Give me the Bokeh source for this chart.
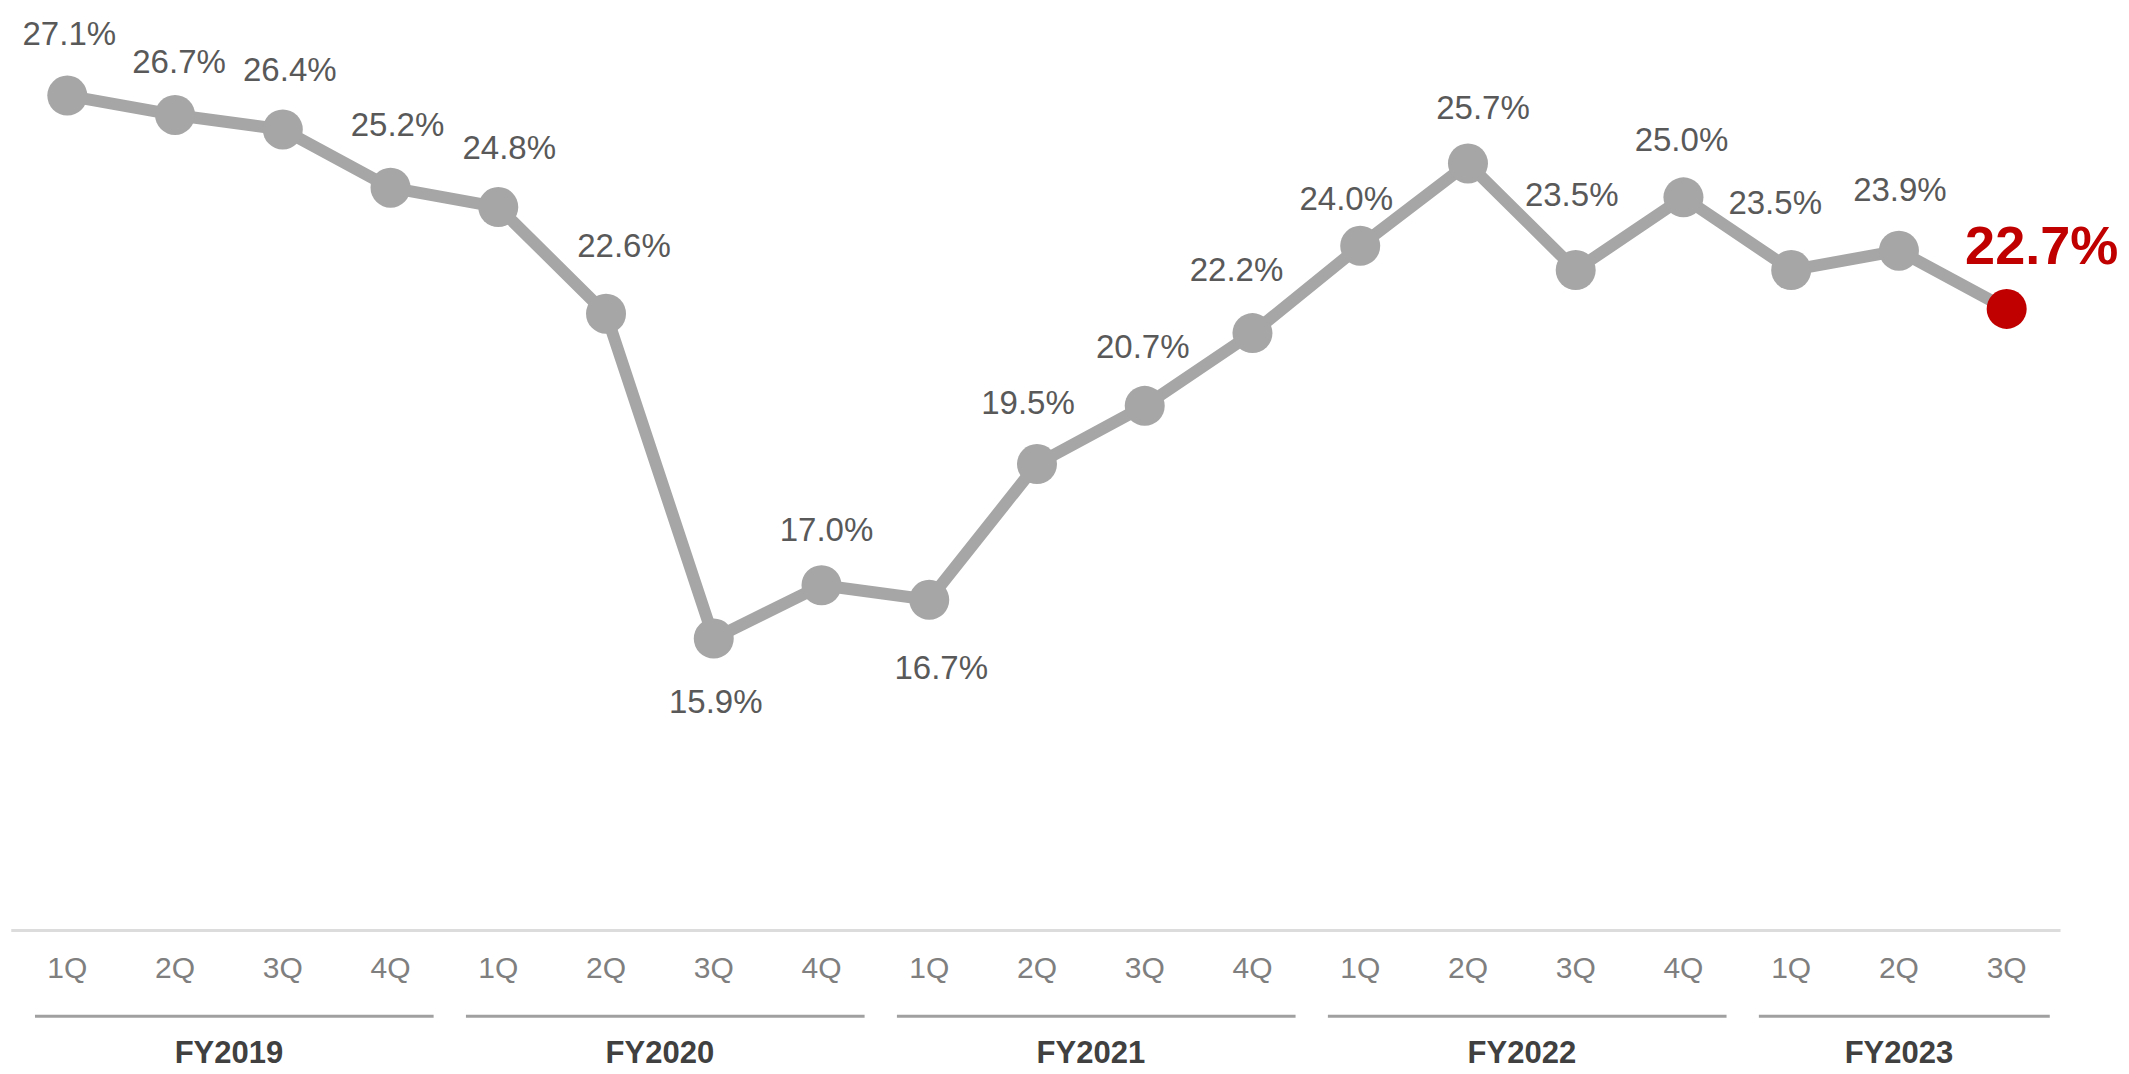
from bokeh.plotting import figure
from bokeh.models import ColumnDataSource, Range1d
from bokeh.core.properties import value
from bokeh.embed import file_html
from bokeh.resources import INLINE

# Quarterly ratio, FY2019 1Q through FY2023 3Q (%)
fiscal_years = ["FY2019", "FY2020", "FY2021", "FY2022", "FY2023"]
quarters_per_year = [4, 4, 4, 4, 3]
quarter_labels = ["1Q", "2Q", "3Q", "4Q",
                  "1Q", "2Q", "3Q", "4Q",
                  "1Q", "2Q", "3Q", "4Q",
                  "1Q", "2Q", "3Q", "4Q",
                  "1Q", "2Q", "3Q"]
ratio = [27.1, 26.7, 26.4, 25.2,
         24.8, 22.6, 15.9, 17.0,
         16.7, 19.5, 20.7, 22.2,
         24.0, 25.7, 23.5, 25.0,
         23.5, 23.9, 22.7]

# Per-label pixel nudges (screen px, +y is downward)
label_dx = [2, 4, 7, 7, 11, 18, 2, 5, 12, -9, -2, -16, -14, 15, -4, -2, -16, 1, 35]
label_dy = [-62, -53, -60, -63, -60, -68, 63, -56, 68, -62, -59, -64, -47, -56, -76, -58, -68, -61, -64]

GREY = "#a6a6a6"
RED = "#c00000"
FONT = value("Liberation Sans")

n = len(ratio)
xs = list(range(n))
last = n - 1

p = figure(width=2129, height=1074, output_backend="svg", toolbar_location=None,
           x_range=Range1d(-0.62, 19.14), y_range=Range1d(6.91, 29.06),
           x_axis_location=None, y_axis_location=None, min_border=0)
p.grid.visible = False
p.outline_line_color = None
p.background_fill_color = "white"
p.border_fill_color = "white"

# baseline under the quarter labels
AXIS_Y = 9.88
p.segment(x0=[-0.52], y0=[AXIS_Y], x1=[last + 0.5], y1=[AXIS_Y],
          line_color="#dcdcdc", line_width=3)

# series line and markers
p.line(xs, ratio, line_color=GREY, line_width=12)
marker_colors = [GREY] * last + [RED]
p.scatter(x=xs, y=ratio, size=40, fill_color=marker_colors, line_color=None)

# value labels
grey_src = ColumnDataSource(dict(
    x=xs[:last], y=ratio[:last],
    t=[f"{v:.1f}%" for v in ratio[:last]],
    dx=label_dx[:last], dy=label_dy[:last]))
p.text(x="x", y="y", text="t", x_offset="dx", y_offset="dy", source=grey_src,
       text_font=FONT, text_font_size="33px", text_color="#595959",
       text_align="center", text_baseline="middle")

p.text(x=[xs[last]], y=[ratio[last]], text=[f"{ratio[last]:.1f}%"],
       x_offset=label_dx[last], y_offset=label_dy[last],
       text_font=FONT, text_font_size="54px", text_font_style="bold",
       text_color=RED, text_align="center", text_baseline="middle")

# quarter labels
p.text(x=xs, y=[9.12] * n, text=quarter_labels,
       text_font=FONT, text_font_size="30px", text_color="#7f7f7f",
       text_align="center", text_baseline="middle")

# fiscal-year brackets and labels
starts, ends, centers = [], [], []
i = 0
for q in quarters_per_year:
    starts.append(i)
    ends.append(i + q - 1)
    centers.append(i + (q - 1) / 2)
    i += q
p.segment(x0=[s - 0.30 for s in starts], y0=[8.11] * len(starts),
          x1=[e + 0.40 for e in ends], y1=[8.11] * len(ends),
          line_color="#a0a0a0", line_width=3)
p.text(x=centers, y=[7.37] * len(centers), text=fiscal_years,
       text_font=FONT, text_font_size="31px", text_font_style="bold",
       text_color="#404040", text_align="center", text_baseline="middle")

open("out.html", "w").write(file_html(p, INLINE))
